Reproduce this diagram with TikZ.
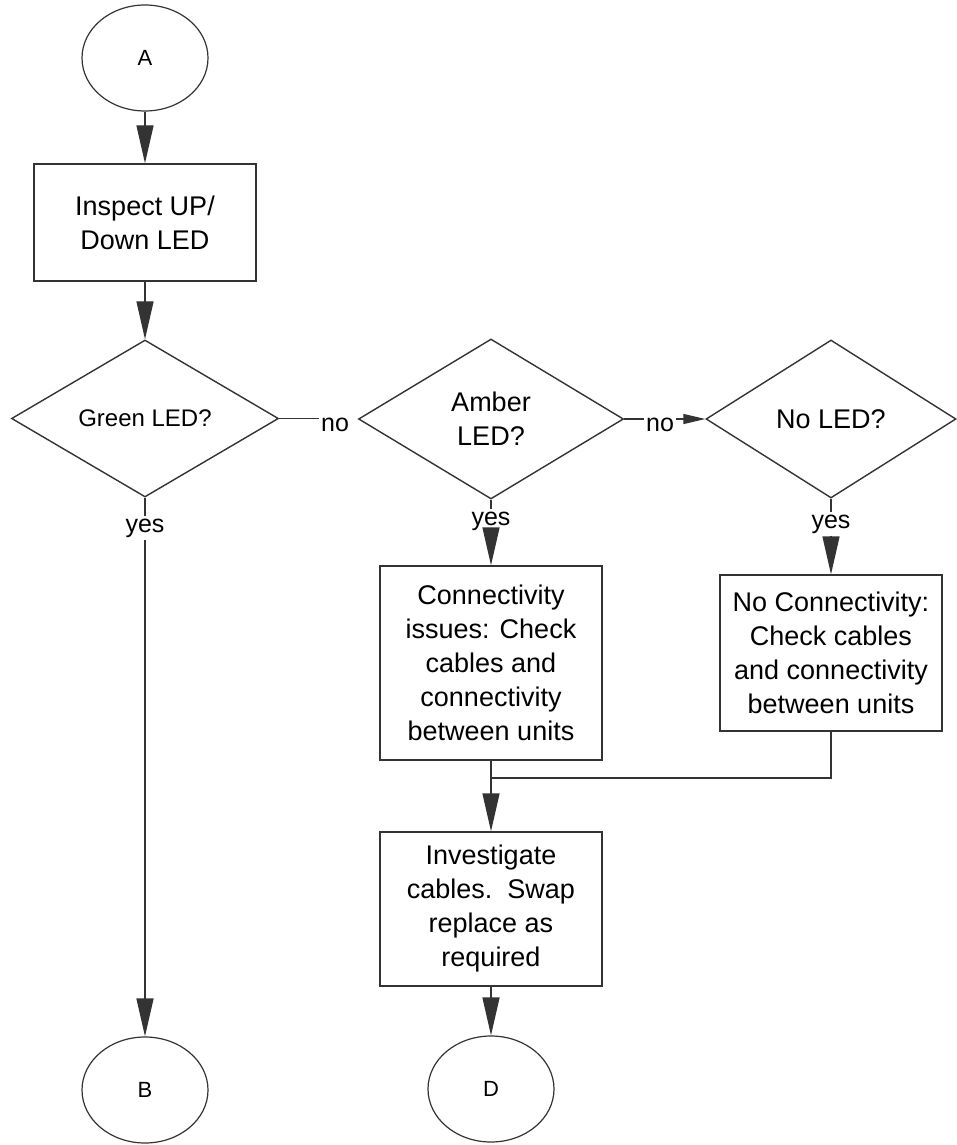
\documentclass[tikz,border=0pt]{standalone}
\usepackage{fontspec}
\setmainfont{Liberation Sans}
\usetikzlibrary{shapes.geometric,arrows.meta}

\begin{document}
\begin{tikzpicture}[x=1pt,y=-1pt,
  line/.style={draw=black!80, line width=1.4pt},
  arr/.style={line, -{Triangle[length=38pt,width=17pt]}},
  smallarr/.style={line, -{Triangle[length=22pt,width=10pt]}},
  txt/.style={font=\fontsize{27}{34}\selectfont, align=center},
  stepbox/.style={txt, rectangle, draw=black!80, line width=1.4pt, inner sep=0pt, minimum width=222pt},
  decision/.style={txt, diamond, draw=black!80, line width=1.4pt, inner sep=0pt},
  terminal/.style={align=center, font=\fontsize{22}{26}\selectfont, ellipse, draw=black!80,
                   line width=1.2pt, inner sep=0pt, minimum width=126pt, minimum height=106pt},
  lbl/.style={font=\fontsize{25}{28}\selectfont, inner sep=2pt}
]
\useasboundingbox (0,0) rectangle (956,1145);

% column positions
\def\colA{145}
\def\colB{491}
\def\colC{831}

% nodes
\node[terminal] (A) at (\colA,58) {A};
\node[stepbox, minimum height=117pt] (inspect) at (\colA,222.5) {Inspect UP/\\Down LED};

\node[decision, minimum width=267pt, minimum height=157pt] (green) at (\colA,418.5)
  {\fontsize{24}{28}\selectfont Green LED?};
\node[decision, minimum width=265pt, minimum height=160pt] (amber) at (\colB,419) {Amber\\LED?};
\node[decision, minimum width=250pt, minimum height=158pt] (noled) at (\colC,419) {No LED?};

\node[lbl] (no1) at (335,425) {no};
\node[lbl] (no2) at (660,425) {no};
\node[lbl] (yes1) at (\colA,528) {yes};
\node[lbl] (yes2) at (\colB,521) {yes};
\node[lbl] (yes3) at (\colC,524) {yes};

\node[stepbox, minimum height=194pt] (conn) at (\colB,663)
  {Connectivity\\issues: Check\\cables and\\connectivity\\between units};
\node[stepbox, minimum height=156pt] (nocon) at (\colC,653)
  {No Connectivity:\\Check cables\\and connectivity\\between units};
\node[stepbox, minimum height=154pt] (inv) at (\colB,909)
  {Investigate\\cables.\ \ Swap\\replace as\\required};

\node[terminal] (B) at (\colA,1090) {B};
\node[terminal] (D) at (\colB,1089) {D};

\coordinate (merge) at (\colB,778);

% connectors
\draw[arr] (A) -- (inspect);
\draw[arr] (inspect) -- (green);
\draw[line] (green.east) -- (green.east -| no1.west);
\draw[line] (amber.east) -- (amber.east -| no2.west);
\draw[smallarr] (noled.west -| no2.east) -- (noled.west);
\draw[line] (green.south) -- (yes1.north);
\draw[arr] (yes1.south) -- (B.north);
\draw[line] (amber.south) -- (yes2.north);
\draw[arr] (yes2.south) -- (conn.north);
\draw[line] (noled.south) -- (yes3.north);
\draw[arr] (yes3.south) -- (nocon.north);
\draw[arr] (conn) -- (inv);
\draw[line] (nocon.south) |- (merge);
\draw[arr] (inv) -- (D);
\end{tikzpicture}
\end{document}
